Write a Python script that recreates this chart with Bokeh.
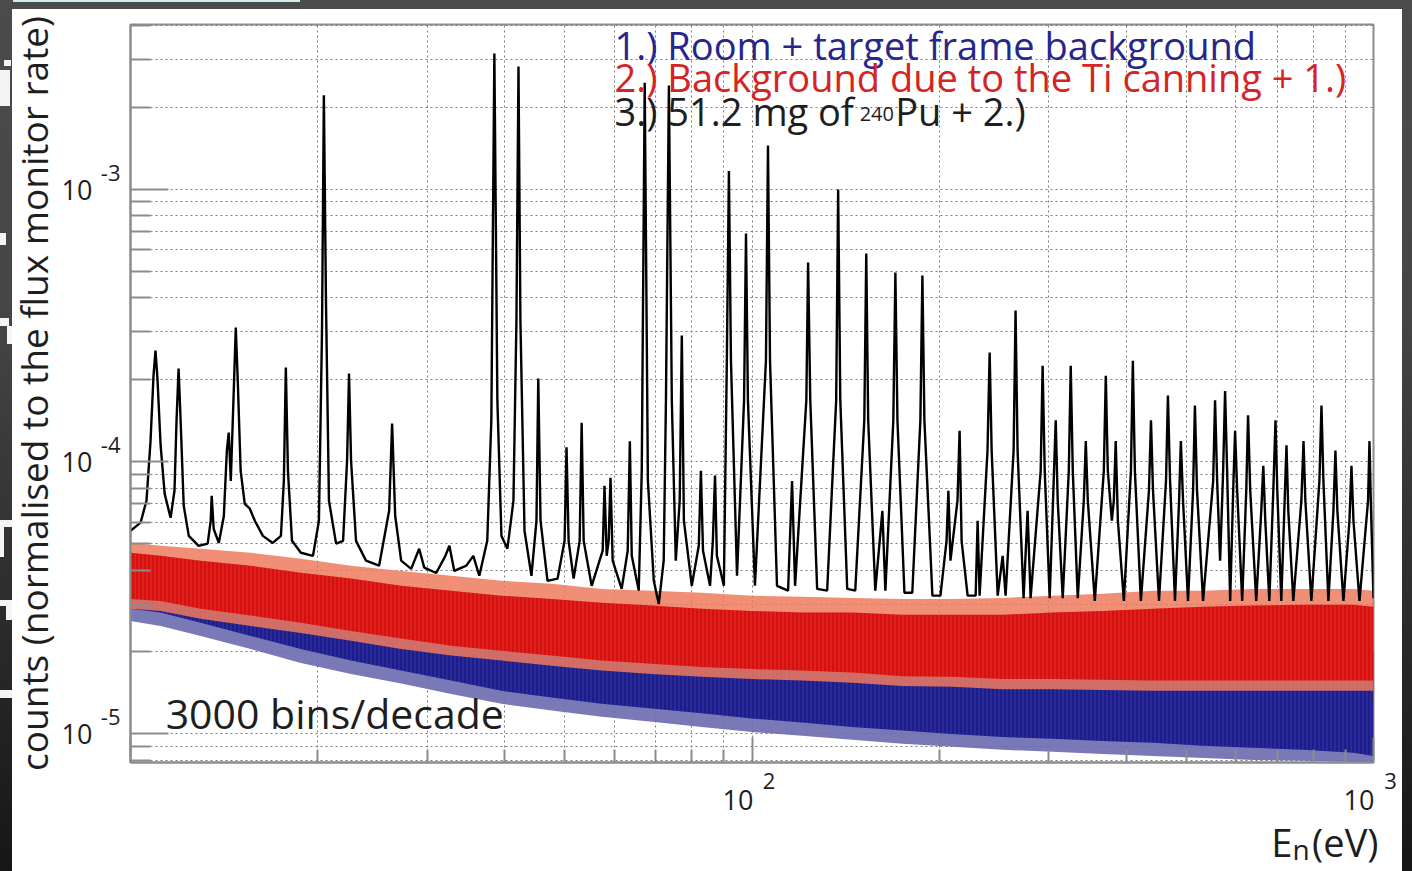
import math
from bokeh.plotting import figure
from bokeh.models import Label, FixedTicker, Range1d, LogAxis, Title
from bokeh.layouts import column
from bokeh.embed import file_html
from bokeh.resources import INLINE

# ---------------- data ----------------
# 3.) 51.2 mg of 240Pu + 2.)  (black spectrum)
pu_E = [10.0, 10.38, 10.61, 10.77, 10.89, 10.97, 11.05, 11.18, 11.35, 11.60, 11.77, 11.86, 11.95, 12.04,
        12.18, 12.41, 12.87, 13.31, 13.46, 13.51, 13.61, 13.87, 14.13, 14.29, 14.39, 14.50, 14.66, 14.77,
        14.88, 15.04, 15.27, 15.56, 15.85, 16.33, 16.94, 17.46, 17.65, 17.78, 17.92, 18.19, 18.80, 19.66,
        20.10, 20.33, 20.47, 20.63, 20.86, 21.42, 21.98, 22.31, 22.47, 22.64, 23.06, 23.93, 25.12, 26.07,
        26.36, 26.66, 27.26, 28.29, 29.14, 29.69, 31.04, 32.11, 32.59, 33.19, 34.7, 35.61, 36.41, 37.5,
        38.07, 38.5, 38.93, 39.52, 40.41, 41.32, 41.78, 42.1, 42.4, 43.05, 44.17, 45.0, 45.3, 45.68,
        46.88, 48.66, 49.94, 50.3, 50.69, 51.64, 52.81, 53.2, 53.6, 55.21, 57.51, 57.9, 58.37, 58.8,
        59.2, 59.68, 61.7, 63.1, 63.6, 64.05, 65.73, 66.47, 67.2, 68.0, 69.5, 70.8, 72.1, 72.7, 73.5,
        74.3, 75.4, 76.5, 77.1, 77.7, 80.0, 82.1, 82.75, 83.4, 85.6, 86.5, 87.2, 87.8, 90.1, 91.1, 91.8,
        92.5, 94.6, 97.1, 97.8, 98.5, 101.1, 105.3, 106.1, 106.9, 109.7, 114.3, 116.0, 117.3, 122.3,
        123.1, 124.1, 127.3, 132.1, 136.6, 137.6, 138.7, 142.3, 146.6, 151.6, 152.7, 153.8, 157.9, 162.1,
        163.9, 168.8, 170.1, 171.4, 175.9, 181.1, 186.6, 188.0, 189.4, 195.1, 201.0, 205.6, 207.0, 208.6,
        214.1, 215.8, 217.4, 222.3, 229.0, 230.7, 232.4, 239.3, 241.2, 243.0, 248.5, 253.1, 255.9, 263.6,
        265.5, 267.5, 273.5, 277.6, 280.7, 291.4, 293.5, 295.8, 301.3, 305.8, 308.1, 310.4, 316.2, 323.4,
        325.7, 328.2, 334.3, 341.9, 344.4, 347.0, 356.1, 368.2, 370.9, 373.7, 379.3, 382.1, 384.8, 387.9,
        396.6, 407.1, 410.0, 413.1, 422.4, 435.2, 438.5, 441.8, 451.7, 463.6, 466.9, 470.6, 479.3, 486.6,
        489.8, 493.8, 503.0, 512.5, 516.0, 520.1, 531.8, 552.1, 556.0, 560.3, 566.5, 572.9, 577.0, 581.4,
        588.0, 594.6, 598.8, 603.5, 614.8, 624.1, 628.3, 633.4, 647.6, 659.8, 664.8, 669.7, 679.8, 689.9,
        695.5, 700.2, 710.6, 718.6, 724.4, 729.3, 743.0, 765.5, 771.6, 776.9, 794.3, 818.4, 824.7, 830.6,
        846.1, 862.0, 868.4, 874.7, 894.5, 914.7, 921.6, 928.4, 949.4, 980.0, 985.2, 990.0, 1000.0]
pu_counts = [5.57e-5, 5.97e-5, 7.19e-5, 1.19e-4, 2.07e-4, 2.56e-4, 2.02e-4, 1.15e-4, 7.62e-5, 6.22e-5,
             7.82e-5, 1.42e-4, 2.20e-4, 1.42e-4, 6.89e-5, 5.34e-5, 4.91e-5, 5.0e-5, 6.07e-5, 7.5e-5,
             5.66e-5, 5.03e-5, 6.3e-5, 1.10e-4, 1.28e-4, 8.5e-5, 1.82e-4, 3.11e-4, 1.98e-4, 9.26e-5,
             7.0e-5, 6.72e-5, 6.07e-5, 5.34e-5, 5.03e-5, 5.34e-5, 8.5e-5, 2.22e-4, 9.26e-5, 5.12e-5,
             4.63e-5, 4.51e-5, 6.07e-5, 3.03e-4, 2.22e-3, 3.91e-4, 7.19e-5, 5.0e-5, 5.12e-5, 1.01e-4,
             2.11e-4, 1.01e-4, 5.12e-5, 4.33e-5, 4.15e-5, 6.6e-5, 1.38e-4, 6.33e-5, 4.33e-5, 4.04e-5,
             4.79e-5, 4.08e-5, 3.9e-5, 4.51e-5, 4.91e-5, 3.97e-5, 4.15e-5, 4.51e-5, 3.81e-5, 5.12e-5,
             1.42e-4, 3.16e-3, 1.68e-4, 5.34e-5, 4.79e-5, 7.19e-5, 3.3e-4, 2.83e-3, 3.3e-4, 5.57e-5,
             3.81e-5, 6.07e-5, 2.02e-4, 6.07e-5, 3.65e-5, 3.72e-5, 5.12e-5, 1.13e-4, 5.12e-5, 3.72e-5,
             5.12e-5, 1.39e-4, 5.12e-5, 3.5e-5, 4.71e-5, 8.16e-5, 4.51e-5, 5.12e-5, 8.73e-5, 4.33e-5,
             3.41e-5, 4.71e-5, 1.19e-4, 4.51e-5, 3.36e-5, 9.26e-5, 2.47e-3, 8.5e-5, 3.65e-5, 3.0e-5,
             4.33e-5, 1.68e-4, 2.41e-3, 1.68e-4, 4.33e-5, 7.19e-5, 2.91e-4, 6.07e-5, 3.5e-5, 4.91e-5,
             9.26e-5, 4.71e-5, 3.5e-5, 5.12e-5, 8.89e-5, 4.51e-5, 3.5e-5, 2.35e-4, 1.17e-3, 2.35e-4,
             3.81e-5, 1.68e-4, 6.89e-4, 1.68e-4, 3.5e-5, 2.35e-4, 1.45e-3, 2.35e-4, 3.5e-5, 3.36e-5,
             8.5e-5, 3.5e-5, 1.68e-4, 5.39e-4, 1.68e-4, 3.41e-5, 3.36e-5, 1.68e-4, 1.0e-3, 1.68e-4,
             3.41e-5, 3.36e-5, 1.42e-4, 5.82e-4, 1.42e-4, 3.36e-5, 6.6e-5, 3.36e-5, 1.42e-4, 4.96e-4,
             1.42e-4, 3.3e-5, 3.3e-5, 1.42e-4, 4.83e-4, 1.42e-4, 3.22e-5, 3.22e-5, 5.12e-5, 7.82e-5,
             4.33e-5, 7.19e-5, 1.30e-4, 5.12e-5, 3.22e-5, 3.22e-5, 6.07e-5, 3.22e-5, 1.10e-4, 2.52e-4,
             1.10e-4, 3.22e-5, 4.51e-5, 3.22e-5, 1.10e-4, 3.59e-4, 1.10e-4, 3.15e-5, 6.6e-5, 3.15e-5,
             9.26e-5, 2.25e-4, 9.26e-5, 3.15e-5, 8.5e-5, 1.42e-4, 7.19e-5, 3.15e-5, 9.26e-5, 2.25e-4,
             9.26e-5, 3.15e-5, 7.19e-5, 1.19e-4, 7.19e-5, 3.08e-5, 9.26e-5, 2.07e-4, 9.26e-5, 6.07e-5,
             7.19e-5, 1.19e-4, 6.07e-5, 3.08e-5, 9.26e-5, 2.35e-4, 9.26e-5, 3.08e-5, 7.82e-5, 1.42e-4,
             7.82e-5, 3.08e-5, 8.5e-5, 1.75e-4, 8.5e-5, 3.08e-5, 7.19e-5, 1.19e-4, 7.19e-5, 3.08e-5,
             7.82e-5, 1.61e-4, 7.82e-5, 3.08e-5, 8.5e-5, 1.68e-4, 8.5e-5, 4.33e-5, 9.26e-5, 1.82e-4,
             9.26e-5, 3.08e-5, 7.82e-5, 1.30e-4, 7.82e-5, 3.08e-5, 7.82e-5, 1.48e-4, 7.82e-5, 3.08e-5,
             6.6e-5, 9.66e-5, 6.07e-5, 3.08e-5, 7.82e-5, 1.42e-4, 7.82e-5, 3.08e-5, 6.6e-5, 1.15e-4,
             6.6e-5, 3.08e-5, 7.19e-5, 1.19e-4, 7.19e-5, 3.08e-5, 8.5e-5, 1.61e-4, 8.5e-5, 3.08e-5,
             6.6e-5, 1.10e-4, 6.6e-5, 3.08e-5, 6.07e-5, 9.66e-5, 6.07e-5, 3.08e-5, 7.19e-5, 1.19e-4,
             7.19e-5, 3.15e-5]

# energies at which the noisy background bands were read
band_E = [10.0, 11.18, 12.97, 15.61, 18.80, 22.64, 27.26, 32.81, 39.52, 47.6, 57.3, 69.0, 83.0, 100.0,
          120.4, 145.0, 174.6, 210.2, 253.1, 304.7, 366.8, 441.8, 531.8, 640.3, 771.0, 928.4, 1000.0]
# 2.) Background due to the Ti canning + 1.)  (red)
ti_spike_top = [5.04e-5, 4.91e-5, 4.79e-5, 4.63e-5, 4.40e-5, 4.15e-5, 3.97e-5, 3.81e-5, 3.65e-5, 3.56e-5,
                3.41e-5, 3.36e-5, 3.30e-5, 3.22e-5, 3.19e-5, 3.16e-5, 3.13e-5, 3.13e-5, 3.16e-5, 3.22e-5,
                3.27e-5, 3.36e-5, 3.36e-5, 3.41e-5, 3.41e-5, 3.41e-5, 3.36e-5]
ti_upper = [4.63e-5, 4.51e-5, 4.33e-5, 4.15e-5, 3.91e-5, 3.72e-5, 3.50e-5, 3.36e-5, 3.22e-5, 3.13e-5,
            3.03e-5, 2.96e-5, 2.88e-5, 2.83e-5, 2.79e-5, 2.79e-5, 2.74e-5, 2.74e-5, 2.74e-5, 2.79e-5,
            2.83e-5, 2.88e-5, 2.93e-5, 2.96e-5, 2.98e-5, 2.98e-5, 2.93e-5]
ti_lower = [3.13e-5, 3.08e-5, 2.88e-5, 2.72e-5, 2.56e-5, 2.39e-5, 2.24e-5, 2.11e-5, 2.02e-5, 1.94e-5,
            1.86e-5, 1.81e-5, 1.76e-5, 1.73e-5, 1.71e-5, 1.68e-5, 1.63e-5, 1.62e-5, 1.59e-5, 1.59e-5,
            1.58e-5, 1.57e-5, 1.57e-5, 1.57e-5, 1.57e-5, 1.57e-5, 1.57e-5]
ti_spike_low = [2.88e-5, 2.83e-5, 2.65e-5, 2.49e-5, 2.35e-5, 2.20e-5, 2.05e-5, 1.94e-5, 1.86e-5, 1.78e-5,
                1.71e-5, 1.66e-5, 1.62e-5, 1.59e-5, 1.57e-5, 1.54e-5, 1.50e-5, 1.49e-5, 1.46e-5, 1.46e-5,
                1.45e-5, 1.44e-5, 1.44e-5, 1.44e-5, 1.44e-5, 1.44e-5, 1.44e-5]
# 1.) Room + target frame background  (blue)
room_upper = [3.81e-5, 3.72e-5, 3.50e-5, 3.30e-5, 3.08e-5, 2.88e-5, 2.72e-5, 2.60e-5, 2.49e-5, 2.39e-5,
              2.29e-5, 2.24e-5, 2.20e-5, 2.14e-5, 2.11e-5, 2.07e-5, 2.02e-5, 2.02e-5, 2.02e-5, 2.0e-5,
              1.99e-5, 1.99e-5, 1.99e-5, 1.99e-5, 1.99e-5, 1.99e-5, 1.99e-5]
room_lower = [2.88e-5, 2.79e-5, 2.56e-5, 2.29e-5, 2.05e-5, 1.86e-5, 1.71e-5, 1.57e-5, 1.44e-5, 1.36e-5,
              1.29e-5, 1.24e-5, 1.19e-5, 1.14e-5, 1.10e-5, 1.06e-5, 1.03e-5, 1.0e-5, 9.75e-6, 9.59e-6,
              9.42e-6, 9.27e-6, 9.04e-6, 8.89e-6, 8.74e-6, 8.52e-6, 8.30e-6]
room_spike_low = [2.60e-5, 2.49e-5, 2.29e-5, 2.05e-5, 1.82e-5, 1.66e-5, 1.53e-5, 1.40e-5, 1.29e-5, 1.22e-5,
                  1.155e-5, 1.107e-5, 1.06e-5, 1.016e-5, 9.84e-6, 9.51e-6, 9.19e-6, 8.96e-6, 8.74e-6,
                  8.59e-6, 8.44e-6, 8.30e-6, 8.16e-6, 8.02e-6, 7.96e-6, 7.89e-6, 7.85e-6]

# axis ticks and their labels (10 with a raised exponent)
x_major = [10, 100, 1000]
x_minor = [20, 30, 40, 50, 60, 70, 80, 90, 200, 300, 400, 500, 600, 700, 800, 900]
x_exp = ["", "2", "3"]
y_major = [1e-5, 1e-4, 1e-3]
y_minor = [k * 10.0 ** e for e in (-6, -5, -4, -3) for k in range(2, 10)]
y_exp = ["-5", "-4", "-3"]

XMIN, XMAX = 10.0, 1000.0
YMIN, YMAX = 7.85e-6, 4.04e-3

FONT = "Open Sans"
AXC = "#8c8c8c"
GRC = "#7a7a7a"
TXT = "#1e1e1e"
NB = "\u00a0"

p = figure(width=1402, height=862, x_axis_type="log", y_axis_type="log",
           x_range=Range1d(XMIN, XMAX), y_range=Range1d(YMIN, YMAX),
           output_backend="svg", toolbar_location=None,
           min_border_left=130, min_border_right=29, min_border_top=15, min_border_bottom=109)
p.margin = (9, 10, 0, 0)
p.background_fill_color = "white"
p.border_fill_color = None
p.outline_line_color = AXC
p.outline_line_width = 2

p.xaxis.ticker = FixedTicker(ticks=x_major, minor_ticks=x_minor)
p.yaxis.ticker = FixedTicker(ticks=y_major, minor_ticks=y_minor)


def style_labels(ax, size):
    ax.major_label_text_font = FONT
    ax.major_label_text_font_size = f"{size}px"
    ax.major_label_text_color = TXT


for ax, mi, ma in ((p.xaxis, 13, 25), (p.yaxis, 20, 38)):
    ax.axis_line_color = AXC
    ax.axis_line_width = 2
    ax.major_tick_line_color = AXC
    ax.minor_tick_line_color = AXC
    ax.major_tick_line_width = 2
    ax.minor_tick_line_width = 2
    ax.major_tick_in = ma
    ax.major_tick_out = 0
    ax.minor_tick_in = mi
    ax.minor_tick_out = 0
    style_labels(ax, 22)

# exponents on the inner axes
p.yaxis.major_label_standoff = 10
p.yaxis.major_label_overrides = {v: e + "\n" + NB for v, e in zip(y_major, y_exp)}
p.xaxis.major_label_standoff = 2
p.xaxis.major_label_overrides = {v: (NB * 6 + e) if e else "" for v, e in zip(x_major, x_exp)}


def bare_axis(ticks, overrides, standoff, size):
    ax = LogAxis(ticker=FixedTicker(ticks=ticks, minor_ticks=[]))
    ax.axis_line_color = None
    ax.major_tick_line_color = None
    ax.minor_tick_line_color = None
    ax.major_tick_in = 0
    ax.major_tick_out = 0
    ax.minor_tick_in = 0
    ax.minor_tick_out = 0
    ax.major_label_standoff = standoff
    ax.major_label_overrides = overrides
    style_labels(ax, size)
    return ax


# "10" mantissas on outer axes, and the y title
y10 = bare_axis(y_major, {v: "10" for v in y_major}, 5, 27)
y10.axis_label = "counts (normalised to the flux monitor rate)"
y10.axis_label_text_font = FONT
y10.axis_label_text_font_size = "37px"
y10.axis_label_text_font_style = "normal"
y10.axis_label_text_color = TXT
y10.axis_label_standoff = 0
p.add_layout(y10, "left")

x10 = bare_axis(x_major, {v: ("10" + NB * 4) if e else "" for v, e in zip(x_major, x_exp)}, -17, 27)
p.add_layout(x10, "below")

# x title "E_n (eV)": main part as a title, the subscript n set just below its baseline
p.add_layout(Title(text="E" + NB * 2 + "(eV)", align="right", offset=-5, standoff=-14,
                   text_font=FONT, text_font_size="38px", text_font_style="normal",
                   text_color=TXT), "below")
x_sub_at = [765.0]
xn = bare_axis(x_sub_at, {x_sub_at[0]: "n"}, -31, 28)
p.add_layout(xn, "below")

for g in (p.xgrid, p.ygrid):
    g.grid_line_color = GRC
    g.grid_line_dash = "2 3"
    g.grid_line_width = 1
    g.minor_grid_line_color = GRC
    g.minor_grid_line_dash = "2 3"
    g.minor_grid_line_width = 1

# background bands
p.varea(x=band_E, y1=room_spike_low, y2=room_upper, fill_color="#6a6ab0", fill_alpha=0.9)
p.varea(x=band_E, y1=room_lower, y2=room_upper, fill_color="#1c1c8a",
        hatch_pattern="|", hatch_color="#4a4ab8", hatch_alpha=0.6, hatch_scale=4, hatch_weight=1)
p.varea(x=band_E, y1=ti_spike_low, y2=ti_spike_top, fill_color="#ee7a5e", fill_alpha=0.85)
p.varea(x=band_E, y1=ti_lower, y2=ti_upper, fill_color="#d80f0f",
        hatch_pattern="|", hatch_color="#f0604a", hatch_alpha=0.45, hatch_scale=4, hatch_weight=1)
# sample spectrum
p.line(x=pu_E, y=pu_counts, line_color="black", line_width=2.4)


def lab(text, x, y, size, color=TXT):
    # y is the text baseline; the offset compensates the box placement of the label
    p.add_layout(Label(x=x, y=y, text=text, text_font=FONT, text_font_size=f"{size}px",
                       text_color=color, text_align="left", text_baseline="alphabetic",
                       y_offset=round(0.43 * size)))


lab("1.) Room + target frame background", 60.1, 2.96e-3, 38, color="#26268c")
lab("2.) Background due to the Ti canning + 1.)", 60.1, 2.27e-3, 38, color="#d42424")
lab("3.) 51.2 mg of ", 60.1, 1.70e-3, 38)
lab("240", 149.0, 1.763e-3, 20)
lab("Pu + 2.)", 170.0, 1.70e-3, 38)
lab("3000 bins/decade", 11.39, 1.026e-5, 41)

# page: dark slide surround with white fragments of slide lettering on the left edge
W = "linear-gradient(#f4f4f4, #f4f4f4)"
frags = [(0, 70, 10, 36), (4, 60, 7, 6), (0, 233, 6, 12), (0, 318, 9, 8), (7, 326, 5, 18),
         (0, 520, 12, 7), (0, 527, 4, 30), (0, 600, 12, 6), (6, 606, 6, 14), (0, 690, 12, 8)]
layers = ["linear-gradient(#cdeef0, #cdeef0) 13px 0px / 287px 2px no-repeat"]
layers += [f"{W} {x}px {y}px / {w}px {h}px no-repeat" for x, y, w, h in frags]
layers += ["linear-gradient(#ffffff, #ffffff) 12px 9px / 1390px 862px no-repeat",
           "linear-gradient(to bottom, #4b4b4b 0%, #464646 35%, #161616 100%)"]
page = column(p, width=1412, height=871, sizing_mode="fixed", styles={"background": ", ".join(layers)})

open("out.html", "w").write(file_html(page, INLINE))
